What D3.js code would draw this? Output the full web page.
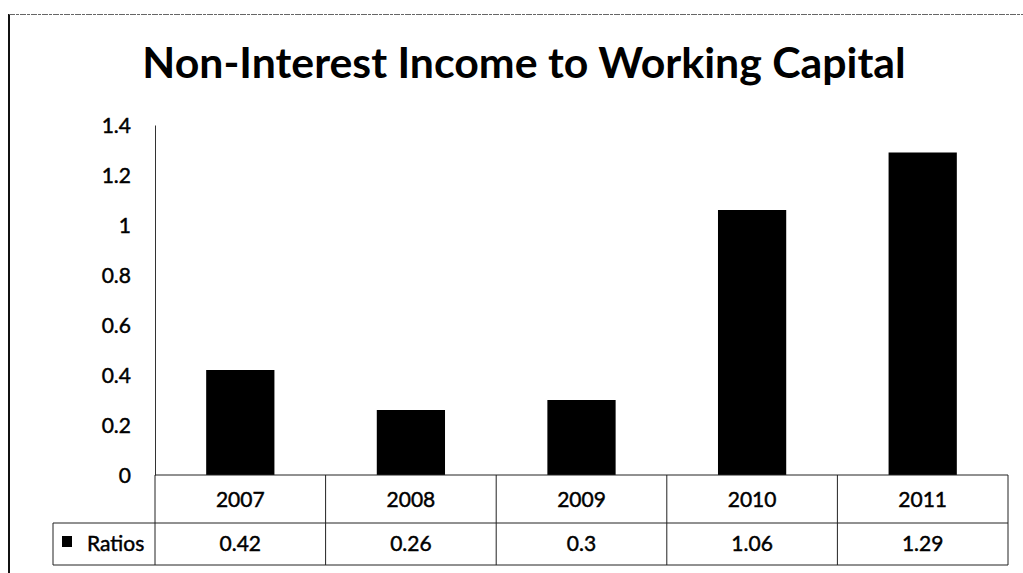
<!DOCTYPE html>
<html>
<head>
<meta charset="utf-8">
<script src="https://cdn.jsdelivr.net/npm/d3@7/dist/d3.min.js"></script>
<style>
  html, body { margin: 0; padding: 0; background: #fff; }
  svg { display: block; }
  text { font-family: Lato, "Open Sans", sans-serif; fill: #000; }
  .lbl { stroke: #000; stroke-width: 0.45px; }
</style>
</head>
<body>
<svg id="chart" width="1023" height="573"></svg>
<script>
// Chart data
const years = ["2007", "2008", "2009", "2010", "2011"];
const ratios = [0.42, 0.26, 0.3, 1.06, 1.29];
const yTicks = [0, 0.2, 0.4, 0.6, 0.8, 1, 1.2, 1.4];
const seriesName = "Ratios";
const titleText = "Non-Interest Income to Working Capital";

const svg = d3.select("#chart");
const W = 1023, H = 573;

// Plot area
const plot = { left: 155, right: 1008, top: 125, bottom: 475 };
const row1Bottom = 523, row2Bottom = 565, legendLeft = 53;
const labelSize = 21;

const x = d3.scaleBand().domain(years).range([plot.left, plot.right]).paddingInner(0).paddingOuter(0);
const y = d3.scaleLinear().domain([0, 1.4]).range([plot.bottom, plot.top]);

// Outer chart frame (left and top edges)
svg.append("line").attr("x1", 9).attr("x2", 9).attr("y1", 14).attr("y2", H)
  .attr("stroke", "#111").attr("stroke-width", 2);
svg.append("line").attr("x1", 9).attr("x2", W).attr("y1", 14.5).attr("y2", 14.5)
  .attr("stroke", "#666").attr("stroke-width", 1).attr("stroke-dasharray", "6 1 3 1");

// Title
svg.append("text")
  .attr("x", 524).attr("y", 78)
  .attr("text-anchor", "middle")
  .attr("font-size", 42.8).attr("font-weight", 700)
  .text(titleText);

// Y axis: labels only, with a plain axis line
const yAxis = d3.axisLeft(y).tickValues(yTicks).tickSize(0).tickPadding(24)
  .tickFormat(d => d3.format("~g")(d));
const gy = svg.append("g").attr("transform", `translate(${plot.left},0)`).call(yAxis);
gy.select(".domain").attr("stroke", "#333").attr("stroke-width", 1);
gy.selectAll("text").attr("class", "lbl").attr("font-size", labelSize)
  .attr("font-family", "Lato, sans-serif").attr("fill", "#000").attr("dy", "0.34em");

// Bars
const barW = x.bandwidth() * 0.4;
svg.append("g").selectAll("rect").data(ratios).join("rect")
  .attr("x", (d, i) => x(years[i]) + (x.bandwidth() - barW) / 2)
  .attr("y", d => y(d))
  .attr("width", barW)
  .attr("height", d => y(0) - y(d))
  .attr("fill", "#000");

// Data table below the plot
const table = svg.append("g").attr("stroke", "#222").attr("stroke-width", 1).attr("fill", "none");
table.append("line").attr("x1", plot.left).attr("x2", plot.right).attr("y1", plot.bottom).attr("y2", plot.bottom);
table.append("line").attr("x1", legendLeft).attr("x2", plot.right).attr("y1", row1Bottom).attr("y2", row1Bottom);
table.append("line").attr("x1", legendLeft).attr("x2", plot.right).attr("y1", row2Bottom).attr("y2", row2Bottom);
table.append("line").attr("x1", legendLeft).attr("x2", legendLeft).attr("y1", row1Bottom).attr("y2", row2Bottom);
const colEdges = years.map(d => x(d)).concat([plot.right]);
table.selectAll("line.col").data(colEdges).join("line").attr("class", "col")
  .attr("x1", d => d).attr("x2", d => d).attr("y1", plot.bottom).attr("y2", row2Bottom);

// Category labels row
svg.append("g").selectAll("text").data(years).join("text")
  .attr("class", "lbl")
  .attr("x", d => x(d) + x.bandwidth() / 2)
  .attr("y", 507)
  .attr("text-anchor", "middle").attr("font-size", labelSize)
  .text(d => d);

// Values row
svg.append("g").selectAll("text").data(ratios).join("text")
  .attr("class", "lbl")
  .attr("x", (d, i) => x(years[i]) + x.bandwidth() / 2)
  .attr("y", 551)
  .attr("text-anchor", "middle").attr("font-size", labelSize)
  .text(d => d3.format("~g")(d));

// Legend key inside the table
svg.append("rect").attr("x", 62).attr("y", 536).attr("width", 10).attr("height", 11).attr("fill", "#000");
svg.append("text").attr("class", "lbl").attr("x", 87).attr("y", 551).attr("font-size", labelSize).text(seriesName);
</script>
</body>
</html>
